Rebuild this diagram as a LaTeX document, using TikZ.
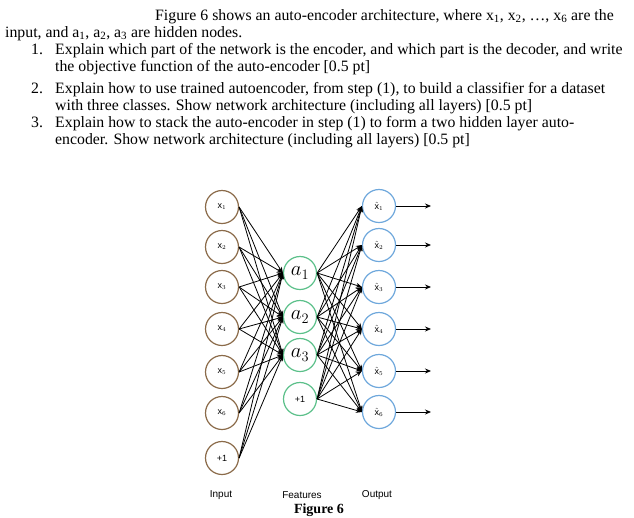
\documentclass[tikz,border=0pt]{standalone}
\usepackage{fontspec}
\setmainfont{Liberation Serif}
\setsansfont{Liberation Sans}
\usetikzlibrary{arrows.meta}
\definecolor{inc}{HTML}{8B6B4A}
\definecolor{hidc}{HTML}{5CC08A}
\definecolor{outc}{HTML}{6FA8DC}
\tikzset{
  neu/.style={circle,line width=1.2pt,minimum size=33pt,inner sep=0pt,font=\sffamily\fontsize{9}{10}\selectfont},
  txt/.style={anchor=base west,inner sep=0pt,font=\fontsize{15.8}{17}\selectfont},
  lab/.style={font=\sffamily\fontsize{10}{11}\selectfont,inner sep=0pt},
  con/.style={-{Stealth[length=6pt,width=5pt]},line width=0.8pt}
}
\begin{document}
\begin{tikzpicture}[x=1pt,y=-1pt]
\useasboundingbox (0,0) rectangle (634,517);
\node[txt] (l1) at (155,20) {Figure 6 shows an auto-encoder architecture, where x\textsubscript{1}, x\textsubscript{2}, \dots, x\textsubscript{6} are the};
\node[txt] (l2) at (5,37) {input, and a\textsubscript{1}, a\textsubscript{2}, a\textsubscript{3} are hidden nodes.};
\node[txt] (n1) at (31,54) {1.};
\node[txt] (t1) at (55,54) {Explain which part of the network is the encoder, and which part is the decoder, and write};
\node[txt] (t1b) at (55,71) {the objective function of the auto-encoder [0.5 pt]};
\node[txt] (n2) at (31,93) {2.};
\node[txt] (t2) at (55,93) {Explain how to use trained autoencoder, from step (1), to build a classifier for a dataset};
\node[txt] (t2b) at (55,110) {with three classes. Show network architecture (including all layers) [0.5 pt]};
\node[txt] (n3) at (31,127) {3.};
\node[txt] (t3) at (55,127) {Explain how to stack the auto-encoder in step (1) to form a two hidden layer auto-};
\node[txt] (t3b) at (55,144) {encoder. Show network architecture (including all layers) [0.5 pt]};

\foreach \i/\y in {1/207,2/247,3/287,4/329,5/372,6/413}
  \node[neu,draw=inc] (x\i) at (222,\y) {x$_{\i}$};
\node[neu,draw=inc] (x7) at (222,458) {+1};
\foreach \i/\y in {1/273,2/317,3/355}
  \node[neu,draw=hidc,font=\fontsize{20}{20}\selectfont] (a\i) at (300,\y) {$a_{\i}$};
\node[neu,draw=hidc] (a4) at (300,399) {+1};
\foreach \i/\y in {1/206,2/245,3/287,4/329,5/371,6/412}{
  \node[neu,draw=outc] (o\i) at (379,\y) {$\hat{\mathsf{x}}_{\i}$};
  \coordinate (e\i) at (431,\y);
  \draw[con] (o\i) -- (e\i);
}
\foreach \i in {1,...,7}
  \foreach \j in {1,2,3}
    \draw[con] (x\i.east) -- (a\j.west);
\foreach \j in {1,...,4}
  \foreach \k in {1,...,6}
    \draw[con] (a\j.east) -- (o\k.west);

\node[lab] (li) at (221,495) {Input};
\node[lab] (lf) at (302,495) {Features};
\node[lab] (lo) at (377,495) {Output};
\node[font=\bfseries\fontsize{14}{15}\selectfont,inner sep=0pt] (cap) at (319,510) {Figure 6};
\end{tikzpicture}
\end{document}
